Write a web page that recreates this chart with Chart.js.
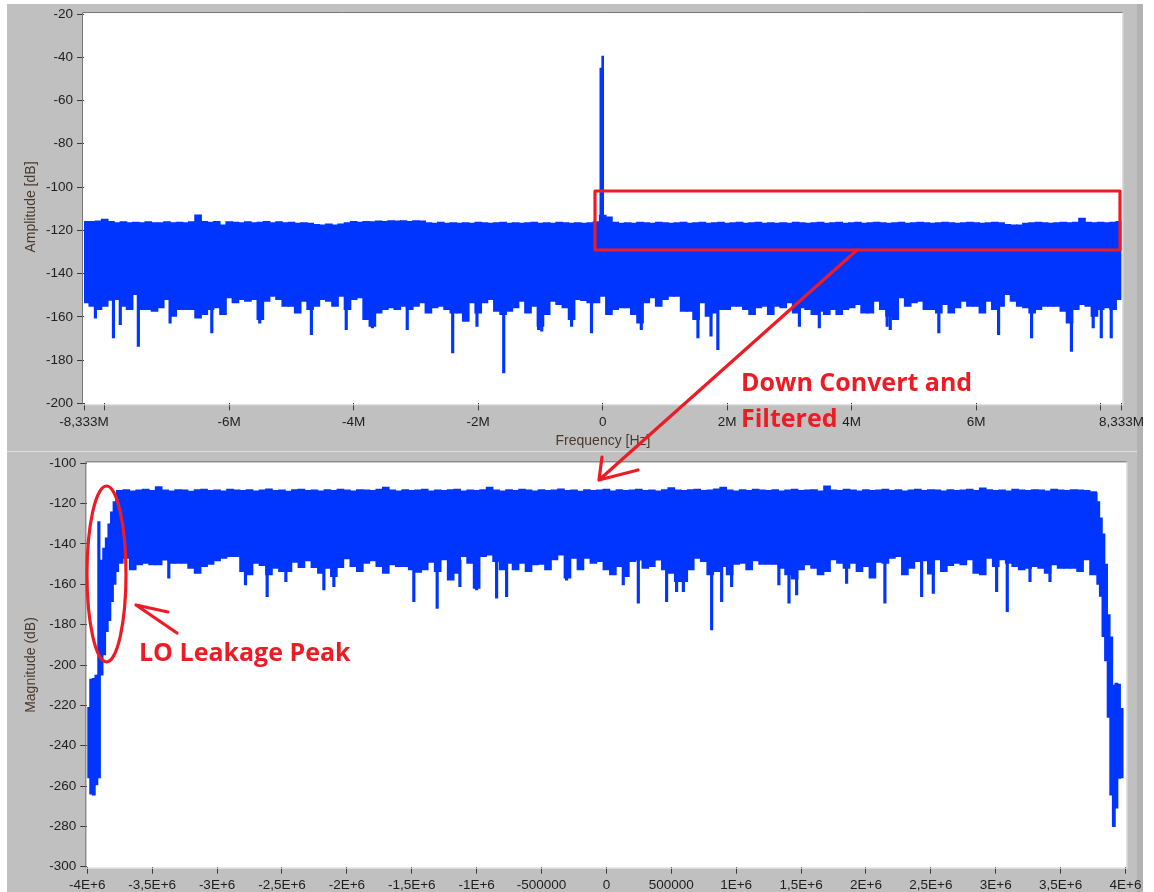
<!DOCTYPE html>
<html>
<head>
<meta charset="utf-8">
<title>Spectrum before and after down conversion</title>
<script src="https://cdn.jsdelivr.net/npm/chart.js@4.4.1/dist/chart.umd.min.js"></script>
<style>
  html, body { margin: 0; padding: 0; background: #ffffff; width: 1154px; height: 892px; overflow: hidden; }
  .panel { position: absolute; background: #c0c0c0; }
  canvas { position: absolute; left: 0; top: 0; }
</style>
</head>
<body>
<div class="panel" style="left:7px; top:4px; width:1136px; height:447px;"></div>
<div class="panel" style="left:7px; top:452px; width:1136px; height:440px;"></div>
<div style="position:absolute; left:7px; top:451px; width:1136px; height:1px; background:#dedede;"></div>
<div style="position:absolute; left:1137px; top:4px; width:6px; height:888px; background:#b2b2b2;"></div>
<canvas id="rawSpectrum" width="1154" height="892"></canvas>
<canvas id="basebandSpectrum" width="1154" height="892"></canvas>
<canvas id="notes" width="1154" height="892"></canvas>
<script>
// ---------- Raw spectrum (top graph), 0.1 MHz bins from -8.3 MHz ----------
const rawBinStartMHz = -8.3;
const rawBinStepMHz = 0.1;
// upper edge of the noise floor per bin [dB]
const rawUpperDb = [
  -115.9, -115.9, -115.6, -114.8, -115.9, -116.4, -116.0, -116.4, -116.2, -116.4,
  -116.0, -116.4, -116.4, -116.0, -116.4, -116.2, -116.4, -116.0, -112.8, -115.9,
  -116.2, -115.9, -117.5, -116.0, -116.2, -116.4, -116.0, -116.4, -116.2, -115.9,
  -116.4, -116.0, -116.4, -116.2, -116.7, -116.4, -116.7, -117.2, -117.5, -117.0,
  -117.5, -117.0, -116.4, -115.9, -116.2, -115.9, -116.0, -115.6, -115.9, -115.5,
  -115.6, -115.5, -115.9, -115.5, -115.6, -116.4, -116.7, -116.2, -116.7, -116.4,
  -116.7, -116.4, -116.7, -116.2, -116.4, -116.7, -116.4, -116.2, -116.7, -116.4,
  -116.7, -116.4, -116.2, -116.7, -116.4, -116.7, -116.2, -116.4, -116.7, -116.4,
  -116.7, -116.4, -116.0, -113.0, -113.8, -116.2, -116.7, -116.4, -116.7, -116.2,
  -116.4, -116.7, -116.2, -116.4, -116.7, -116.4, -116.2, -116.7, -116.4, -116.2,
  -116.7, -116.4, -116.2, -116.7, -116.4, -116.2, -116.7, -116.4, -116.2, -116.7,
  -116.4, -116.7, -116.4, -116.7, -116.2, -116.4, -116.7, -116.4, -116.2, -116.7,
  -116.4, -116.2, -116.7, -116.4, -116.2, -116.7, -116.4, -116.2, -116.4, -116.7,
  -116.4, -116.2, -116.7, -116.4, -116.2, -116.4, -116.7, -116.4, -116.2, -116.4,
  -116.7, -116.4, -116.2, -116.4, -116.7, -116.4, -116.2, -116.4, -117.2, -117.5,
  -117.5, -116.7, -116.4, -116.2, -116.4, -116.7, -116.4, -116.2, -116.4, -116.2,
  -114.4, -116.2, -116.4, -116.2, -116.4, -116.2, -115.9
];
// lower edge of the noise floor per bin [dB]
const rawLowerDb = [
  -153.6, -155.2, -156.7, -155.2, -152.4, -152.1, -155.2, -156.7, -149.8, -156.7,
  -156.7, -157.5, -155.9, -152.1, -159.8, -156.7, -156.7, -156.7, -160.6, -159.0,
  -156.7, -155.9, -159.0, -151.3, -153.6, -152.1, -152.9, -152.1, -161.3, -152.9,
  -150.6, -152.1, -155.2, -155.2, -158.3, -152.9, -156.7, -155.2, -152.1, -152.9,
  -155.2, -150.6, -156.7, -152.1, -151.3, -161.3, -164.4, -158.3, -156.7, -155.9,
  -156.7, -155.2, -156.7, -155.2, -153.6, -158.3,
  -155.9, -155.2, -156.7, -158.3, -158.3, -162.1, -153.6, -158.3, -153.6, -152.1,
  -157.5, -159.0, -157.5, -155.9, -152.9, -158.3, -155.2, -164.4, -159.0, -152.9,
  -154.4, -155.9, -161.3, -152.1, -152.6, -153.6, -153.6, -150.6, -159.0, -156.7,
  -155.9, -155.9, -159.0, -162.9, -153.6, -151.3, -155.2, -152.1, -150.6, -150.6,
  -157.5, -157.5, -161.3, -153.6, -159.8, -158.3, -156.7, -156.7, -155.2, -155.2,
  -156.7, -159.0, -155.9, -155.2, -159.0,
  -155.2, -155.9, -153.6, -158.3, -155.9, -156.7, -159.0, -157.5, -159.0, -156.7,
  -159.0, -156.7, -155.9, -154.4, -158.3, -158.3, -152.9, -156.7, -159.8, -161.3,
  -151.3, -155.2, -153.6, -152.9, -156.7, -156.7, -158.3, -154.4, -158.3, -155.9,
  -152.9, -155.2, -155.2, -158.3, -152.9, -156.7, -155.2, -149.8, -152.9, -155.2,
  -155.9, -158.3, -156.7, -155.2, -155.2, -155.2, -157.5, -162.9, -156.7, -154.4,
  -155.2, -159.8, -156.7, -155.9, -156.7, -152.1
];
// deep single-bin dips below the floor
const rawDipFreqMHz = [-8.15, -7.86, -7.75, -7.46, -6.95, -6.28, -5.51, -4.68, -4.12, -3.70, -3.14,
  -2.41, -2.02, -1.59, -1.03, -0.98, -0.50, -0.18, 0.62, 1.53, 1.74, 1.85, 3.16, 3.48, 4.57,
  4.62, 5.40, 6.36, 6.89, 7.53, 7.88, 8.01, 8.17];
const rawDipDb = [-160.6, -169.8, -163.6, -173.7, -162.9, -167.5, -162.9, -168.3, -166.0, -165.2, -166.0,
  -176.7, -164.4, -186.0, -166.0, -166.7, -164.4, -167.5, -166.0, -169.8, -169.0, -175.2, -164.4, -165.2, -164.4,
  -166.0, -167.5, -168.3, -169.8, -176.0, -165.2, -169.8, -169.8];
// carrier / LO line near 0 Hz
const rawToneFreqMHz = [-0.03, 0.0];
const rawToneDb = [-45.0, -39.5];
const rawFloorDb = -116.0;
const rawXTickMHz = [-8.333, -8, -6, -4, -2, 0, 2, 4, 6, 8, 8.333];
const rawXTickLabels = ['-8,333M', '', '-6M', '-4M', '-2M', '0', '2M', '4M', '6M', '', '8,333M'];

// ---------- Down converted, filtered spectrum (bottom graph), 0.05 MHz bins from -3.75 MHz ----------
const bbBinStartMHz = -3.75;
const bbBinStepMHz = 0.05;
const bbUpperDb = [
  -113.4, -113.0, -113.6, -113.2, -112.8, -113.4, -111.6, -113.2, -113.6, -113.0,
  -113.2, -113.8, -113.0, -112.8, -113.4, -113.2, -113.6, -112.8, -113.2, -113.4,
  -113.0, -113.6, -113.2, -112.6, -113.4, -113.2, -113.8, -113.0, -112.8, -113.4,
  -113.2, -113.6, -113.0, -113.4, -112.8, -113.2, -113.6, -113.0, -113.2, -113.4,
  -112.8, -111.8, -113.2, -113.6, -113.0, -113.4, -113.2, -112.8, -113.6, -113.2,
  -113.4, -113.0, -112.8, -113.6, -113.2, -113.4, -113.0, -111.8, -113.2, -113.6,
  -113.0, -113.4, -112.8, -113.2, -113.6, -113.0, -113.4, -113.2, -112.6, -113.4,
  -113.2, -113.8, -113.0, -113.4, -113.2, -112.8, -113.6, -113.0, -113.4, -113.2,
  -112.8, -113.4, -113.2, -113.6, -113.0, -112.0, -113.2, -113.4, -113.0, -112.8,
  -113.4, -113.2, -112.6, -111.8, -113.2, -113.6, -113.0, -113.4, -112.8, -113.2,
  -113.4, -113.0, -113.6, -113.2, -112.8, -113.4, -113.2, -113.0, -113.6, -111.2,
  -113.2, -113.4, -112.8, -113.2, -113.6, -113.0, -113.4, -113.2, -112.8, -113.4,
  -113.0, -113.6, -113.2, -112.8, -113.4, -113.0, -113.2, -113.6, -113.0, -113.4,
  -113.2, -112.8, -113.4, -112.2, -113.0, -113.4, -113.2, -113.6, -112.8, -113.2,
  -113.4, -113.0, -113.2, -113.6, -112.8, -113.2, -113.4, -113.0, -113.2, -113.4,
  -114.0
];
const bbLowerDb = [
  -149.6, -147.1, -152.9, -150.4, -149.6, -150.4, -150.4, -148.0, -149.6, -149.6,
  -149.6, -152.1, -154.6, -151.2, -150.1, -148.4, -147.1, -146.3, -146.3, -153.7,
  -155.4, -149.6, -150.8, -155.4, -152.1, -153.7, -153.7, -149.1, -151.7, -148.4,
  -151.7, -154.6, -152.1, -156.2, -151.7, -147.4, -151.2, -153.7, -149.6, -148.4,
  -151.2, -154.6, -150.4, -151.2, -151.2, -152.9, -154.1, -152.9, -149.1,
  -153.7, -147.9, -157.9, -154.6, -146.3, -149.6, -162.0, -146.3, -145.5, -148.8,
  -152.9, -149.6, -152.9, -149.6, -153.7, -150.4, -150.1, -152.9, -147.9, -145.5,
  -157.0, -147.1, -152.9, -147.1, -149.6, -148.8, -152.9, -155.4, -151.2, -156.2,
  -148.8, -148.0, -152.1, -151.2, -148.0, -152.9, -154.6, -158.7, -158.7, -152.9,
  -147.1, -148.8, -155.4, -153.7, -151.2, -155.4, -150.1, -149.6, -152.9, -148.4,
  -150.1, -150.1, -150.1,
  -152.1, -155.4, -157.4, -152.9, -150.4, -152.1, -155.4, -153.7, -147.9, -149.6,
  -152.1, -149.6, -153.7, -151.2, -157.0, -149.1, -149.6, -147.1, -146.3, -155.4,
  -152.1, -148.8, -148.4, -155.0, -147.9, -153.7, -150.8, -149.6, -150.4, -147.9,
  -154.6, -155.4, -147.1, -151.2, -147.9, -149.6, -151.2, -152.9, -152.1, -151.2,
  -152.1, -154.6, -150.4, -152.1, -152.1, -152.1, -153.7, -147.9, -155.4
];
// filter roll-off at both band edges (finer bins)
const bbLeftEdgeFreqMHz = [-3.99, -3.97, -3.95, -3.93, -3.91, -3.89, -3.87, -3.85, -3.83, -3.81, -3.79, -3.77];
const bbLeftEdgeLowDb  = [-256.0, -264.0, -264.5, -259.5, -256.0, -205.0, -195.0, -183.5, -178.0, -168.6, -160.0, -153.7];
const bbLeftEdgeHighDb = [-221.0, -207.0, -206.6, -205.0, -205.0, -148.0, -142.0, -137.0, -130.0, -124.0, -119.0, -115.7];
const bbRightEdgeFreqMHz = [3.77, 3.79, 3.81, 3.83, 3.85, 3.87, 3.89, 3.91, 3.93, 3.95, 3.97];
const bbRightEdgeLowDb  = [-153.7, -160.0, -166.0, -186.0, -198.0, -226.0, -264.5, -280.2, -271.0, -256.2, -256.0];
const bbRightEdgeHighDb = [-114.5, -119.0, -127.0, -135.0, -150.0, -175.0, -186.0, -209.9, -209.0, -209.5, -221.5];
// LO leakage line next to the lower band edge
const bbLeakFreqMHz = [-3.911];
const bbLeakLowDb = [-205.0];
const bbLeakHighDb = [-128.9];
// deep single-bin dips
const bbDipFreqMHz = [-3.372, -2.781, -2.614, -2.47, -2.177, -2.10, -1.484, -1.304, -1.129, -1.0, -0.846,
  -0.769, -0.307, 0.130, 0.246, 0.464, 0.541, 0.593, 0.811, 0.888, 0.965, 1.329, 1.407, 1.466, 1.851,
  2.146, 2.429, 2.519, 3.007, 3.089, 3.264, 3.418];
const bbDipDb = [-157.0, -160.3, -166.1, -158.7, -162.8, -161.2, -168.6, -171.9, -161.2, -162.8, -166.9,
  -166.1, -157.9, -160.3, -169.4, -168.6, -163.6, -163.6, -182.6, -168.6, -161.2, -160.3, -169.4, -165.3, -159.5,
  -169.4, -166.1, -164.5, -163.6, -173.6, -158.7, -158.7];
const dipTopDb = -148.0;

// ---------- drawing helpers ----------
const TRACE = '#0035ff';
const TICK_FONT = { family: '"Liberation Sans", Arial, sans-serif', size: 13.5 };
const TEXT_DARK = '#1e1e1e';

function binned(startMHz, stepMHz, low, high) {
  return low.map((v, i) => ({ x: (startMHz + i * stepMHz) * 1e6, y: [v, high[i]] }));
}
function listed(freqMHz, low, high) {
  return freqMHz.map((f, i) => ({ x: f * 1e6, y: [low[i], Array.isArray(high) ? high[i] : high] }));
}
function barSet(data, thickness) {
  return { data, backgroundColor: TRACE, borderWidth: 0, barThickness: thickness, grouped: false };
}

// white plot area with a sunken frame, plus axis titles
const plotFrame = {
  id: 'plotFrame',
  beforeDraw(chart) {
    const { ctx, chartArea: a } = chart;
    ctx.save();
    ctx.fillStyle = '#ffffff';
    ctx.fillRect(a.left - 1, a.top - 1, a.right - a.left + 2, a.bottom - a.top + 2);
    ctx.restore();
  },
  afterDraw(chart, args, opts) {
    const { ctx, chartArea: a } = chart;
    ctx.save();
    ctx.lineWidth = 1;
    ctx.strokeStyle = '#e6e6e6';
    ctx.beginPath();
    ctx.moveTo(a.left - 1, a.bottom + 1.5); ctx.lineTo(a.right + 1.5, a.bottom + 1.5);
    ctx.lineTo(a.right + 1.5, a.top - 1);
    ctx.stroke();
    ctx.strokeStyle = '#767676';
    ctx.beginPath();
    ctx.moveTo(a.left - 1.5, a.bottom + 1); ctx.lineTo(a.left - 1.5, a.top - 1.5);
    ctx.lineTo(a.right + 1, a.top - 1.5);
    ctx.stroke();
    ctx.fillStyle = opts.color;
    ctx.font = '14px "Liberation Sans", Arial, sans-serif';
    ctx.textAlign = 'center';
    ctx.textBaseline = 'middle';
    if (opts.x) ctx.fillText(opts.x.text, opts.x.cx, opts.x.cy);
    if (opts.y) {
      ctx.translate(opts.y.cx, opts.y.cy);
      ctx.rotate(-Math.PI / 2);
      ctx.fillText(opts.y.text, 0, 0);
    }
    ctx.restore();
  }
};

function axisX(min, max, extra) {
  return Object.assign({
    type: 'linear', min, max, offset: false,
    border: { display: false },
    grid: { offset: false, drawOnChartArea: false, drawTicks: true, tickLength: 7, tickColor: '#3a3a3a', lineWidth: 1 },
    ticks: { font: TICK_FONT, color: TEXT_DARK, autoSkip: false, maxRotation: 0, padding: 3 }
  }, extra);
}
function axisY(min, max) {
  return {
    min, max,
    border: { display: false },
    grid: { drawOnChartArea: false, drawTicks: true, tickLength: 7, tickColor: '#3a3a3a', lineWidth: 1 },
    ticks: { stepSize: 20, font: TICK_FONT, color: TEXT_DARK, padding: 4, callback: v => String(v) },
    afterFit(s) { s.width = 40; }
  };
}

// ---------- top graph ----------
new Chart(document.getElementById('rawSpectrum'), {
  type: 'bar',
  data: {
    datasets: [
      barSet(binned(rawBinStartMHz, rawBinStepMHz, rawLowerDb, rawUpperDb), 7),
      barSet(listed(rawDipFreqMHz, rawDipDb, dipTopDb), 2.5),
      barSet(listed(rawToneFreqMHz, rawToneFreqMHz.map(() => rawFloorDb), rawToneDb), 2)
    ]
  },
  options: {
    responsive: false, animation: false, events: [],
    layout: { padding: { left: 44, right: 32.6, top: 14, bottom: 458.7 } },
    plugins: {
      legend: { display: false }, tooltip: { enabled: false },
      plotFrame: {
        color: '#4a3a2c',
        x: { text: 'Frequency [Hz]', cx: 603, cy: 441 },
        y: { text: 'Amplitude [dB]', cx: 31.5, cy: 207 }
      }
    },
    scales: {
      x: axisX(-8.333e6, 8.333e6, {
        ticks: { font: TICK_FONT, color: TEXT_DARK, autoSkip: false, maxRotation: 0, padding: 4,
          callback: (v, i) => rawXTickLabels[i] },
        afterBuildTicks(s) { s.ticks = rawXTickMHz.map(v => ({ value: v * 1e6 })); },
        afterFit(s) { s.height = 30; }
      }),
      y: axisY(-200, -20)
    }
  },
  plugins: [plotFrame]
});

// ---------- bottom graph ----------
function bbTickLabel(v) {
  if (v === 0) return '0';
  if (Math.abs(v) === 500000) return String(v);
  return String(v / 1e6).replace('.', ',') + 'E+6';
}
new Chart(document.getElementById('basebandSpectrum'), {
  type: 'bar',
  data: {
    datasets: [
      barSet(binned(bbBinStartMHz, bbBinStepMHz, bbLowerDb, bbUpperDb), 7),
      barSet(listed(bbLeftEdgeFreqMHz, bbLeftEdgeLowDb, bbLeftEdgeHighDb), 3.2),
      barSet(listed(bbRightEdgeFreqMHz, bbRightEdgeLowDb, bbRightEdgeHighDb), 3.2),
      barSet(listed(bbLeakFreqMHz, bbLeakLowDb, bbLeakHighDb), 2.5),
      barSet(listed(bbDipFreqMHz, bbDipDb, dipTopDb), 2.5)
    ]
  },
  options: {
    responsive: false, animation: false, events: [],
    layout: { padding: { left: 47.3, right: 28.5, top: 463.3, bottom: 0.3 } },
    plugins: {
      legend: { display: false }, tooltip: { enabled: false },
      plotFrame: {
        color: '#4a3a2c',
        y: { text: 'Magnitude (dB)', cx: 31.5, cy: 665 }
      }
    },
    scales: {
      x: axisX(-4e6, 4e6, {
        ticks: { font: TICK_FONT, color: TEXT_DARK, autoSkip: false, maxRotation: 0, padding: 3, stepSize: 500000, callback: bbTickLabel },
        afterFit(s) { s.height = 25; }
      }),
      y: axisY(-300, -100)
    }
  },
  plugins: [plotFrame]
});

// ---------- hand-drawn notes ----------
(function drawNotes() {
  const c = document.getElementById('notes').getContext('2d');
  const red = '#ed1c24';
  c.strokeStyle = red;
  c.fillStyle = red;
  c.lineWidth = 3.2;
  c.lineCap = 'round';
  c.lineJoin = 'round';
  // zoom box on the positive half of the raw spectrum
  c.strokeRect(595, 191, 525, 59);
  // arrow to the bottom graph
  c.beginPath();
  c.moveTo(857, 250); c.lineTo(599, 480);
  c.moveTo(599, 480); c.lineTo(602, 457);
  c.moveTo(599, 480); c.lineTo(638, 470);
  c.stroke();
  // ring around the leakage line
  c.beginPath();
  c.ellipse(106.5, 574, 19.5, 88, 0, 0, Math.PI * 2);
  c.stroke();
  c.beginPath();
  c.moveTo(177, 633); c.lineTo(136, 605);
  c.moveTo(136, 605); c.lineTo(168, 612);
  c.stroke();
  c.font = 'bold 25px "Open Sans", "Liberation Sans", sans-serif';
  c.textBaseline = 'alphabetic';
  c.fillText('Down Convert and', 741, 391);
  c.fillText('Filtered', 741, 427);
  c.fillText('LO Leakage Peak', 139, 661);
})();
</script>
</body>
</html>
